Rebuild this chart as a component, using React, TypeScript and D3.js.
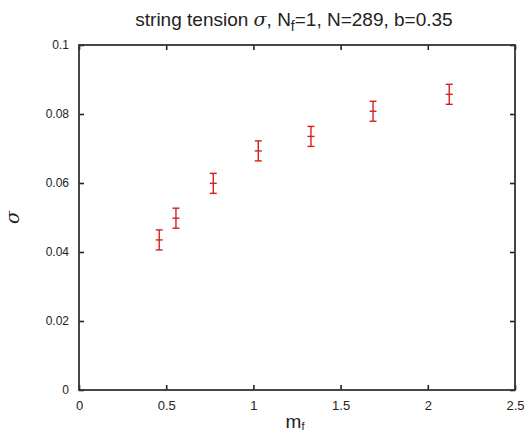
import { useEffect, useRef } from "react";
import * as d3 from "d3";

// quark mass m_f and string tension sigma
const massValues = [0.46, 0.556, 0.77, 1.028, 1.33, 1.686, 2.123];
const sigmaValues = [0.0435, 0.0498, 0.0599, 0.0693, 0.0735, 0.0808, 0.0857];
const sigmaErrors = [0.0029, 0.0029, 0.0029, 0.0029, 0.0029, 0.0029, 0.0029];
const xTicks = [0, 0.5, 1, 1.5, 2, 2.5];
const yTicks = [0, 0.02, 0.04, 0.06, 0.08, 0.1];

const width = 528;
const height = 431;
const marginLeft = 79;
const marginRight = 13;
const marginTop = 45;
const marginBottom = 41;

export default function App() {
  const gx = useRef<SVGGElement>(null);
  const gy = useRef<SVGGElement>(null);
  const gxTop = useRef<SVGGElement>(null);
  const gyRight = useRef<SVGGElement>(null);

  const x = d3
    .scaleLinear()
    .domain([0, 2.5])
    .range([marginLeft, width - marginRight]);
  const y = d3
    .scaleLinear()
    .domain([0, 0.1])
    .range([height - marginBottom, marginTop]);

  useEffect(() => {
    const fmt = (d: d3.NumberValue) => String(+d);
    const styleAxis = (g: d3.Selection<SVGGElement, unknown, null, undefined>) => {
      g.select(".domain").remove();
      g.selectAll("line").attr("stroke", "#222").attr("stroke-width", 1.6);
      g.selectAll("text")
        .attr("fill", "#222")
        .style("font-family", "Liberation Sans, Arial, sans-serif");
    };
    d3.select(gx.current!)
      .call(d3.axisBottom(x).tickValues(xTicks).tickSize(-5).tickPadding(11).tickFormat(fmt))
      .call(styleAxis)
      .call((g) => g.selectAll("text").style("font-size", "13px"));
    d3.select(gy.current!)
      .call(d3.axisLeft(y).tickValues(yTicks).tickSize(-5).tickPadding(10).tickFormat(fmt))
      .call(styleAxis)
      .call((g) => g.selectAll("text").style("font-size", "12px"));
    d3.select(gxTop.current!)
      .call(d3.axisTop(x).tickValues(xTicks).tickSize(-5).tickFormat(() => ""))
      .call(styleAxis);
    d3.select(gyRight.current!)
      .call(d3.axisRight(y).tickValues(yTicks).tickSize(-5).tickFormat(() => ""))
      .call(styleAxis);
  }, []);

  const cap = 3.5;

  return (
    <svg
      width={width}
      height={height}
      style={{ position: "absolute", left: 0, top: 0, background: "white" }}
      fontFamily="Liberation Sans, Arial, sans-serif"
    >
      <text x={294} y={26} textAnchor="middle" fontSize={19} fill="#222">
        string tension <tspan fontFamily="DejaVu Serif" fontStyle="italic">σ</tspan>, N
        <tspan fontSize={14} dy={5}>f</tspan>
        <tspan dy={-5}>=1, N=289, b=0.35</tspan>
      </text>

      <g ref={gx} transform={`translate(0,${height - marginBottom})`} />
      <g ref={gy} transform={`translate(${marginLeft},0)`} />
      <g ref={gxTop} transform={`translate(0,${marginTop})`} />
      <g ref={gyRight} transform={`translate(${width - marginRight},0)`} />
      <rect
        x={marginLeft}
        y={marginTop}
        width={width - marginLeft - marginRight}
        height={height - marginTop - marginBottom}
        fill="none"
        stroke="#333"
        strokeWidth={1.8}
      />

      {massValues.map((m, i) => {
        const cx = x(m);
        const lo = y(sigmaValues[i] - sigmaErrors[i]);
        const hi = y(sigmaValues[i] + sigmaErrors[i]);
        const c = y(sigmaValues[i]);
        return (
          <g key={i} stroke="#d42020" strokeWidth={1.4}>
            <line x1={cx} x2={cx} y1={lo} y2={hi} />
            <line x1={cx - cap} x2={cx + cap} y1={lo} y2={lo} />
            <line x1={cx - cap} x2={cx + cap} y1={hi} y2={hi} />
            <line x1={cx - cap} x2={cx + cap} y1={c} y2={c} />
          </g>
        );
      })}

      <text
        transform={`translate(19,${y(0.05)}) rotate(-90)`}
        textAnchor="middle"
        fontSize={19}
        fontFamily="DejaVu Serif"
        fontStyle="italic"
        fill="#222"
      >
        σ
      </text>
      <text x={295} y={428} textAnchor="middle" fontSize={19} fill="#222">
        m<tspan fontSize={11} dy={2}>f</tspan>
      </text>
    </svg>
  );
}
